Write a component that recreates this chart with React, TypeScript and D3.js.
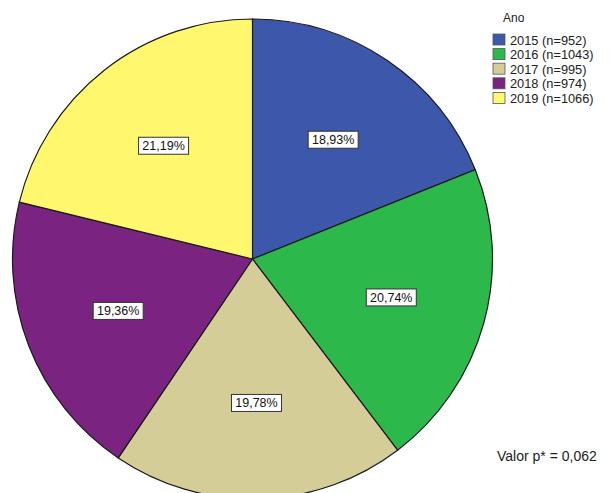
import * as d3 from "d3";

const years = ["2015", "2016", "2017", "2018", "2019"];
const counts = [952, 1043, 995, 974, 1066];
const percents = [18.93, 20.74, 19.78, 19.36, 21.19];
const colors = ["#3d58aa", "#2db84b", "#d5cd98", "#7b2381", "#fff86f"];

const W = 613;
const H = 493;

export default function App() {
  const cx = 252.5;
  const cy = 259;
  const r = 240;

  const pie = d3
    .pie<number>()
    .sort(null)
    .value((d) => d);
  const arcs = pie(percents);
  const arc = d3.arc<d3.PieArcDatum<number>>().innerRadius(0).outerRadius(r);
  const labelArc = d3
    .arc<d3.PieArcDatum<number>>()
    .innerRadius(r * 0.6)
    .outerRadius(r * 0.6);

  const fmt = (v: number) => v.toFixed(2).replace(".", ",") + "%";

  return (
    <svg
      width={W}
      height={H}
      style={{ position: "absolute", left: 0, top: 0, background: "#fff" }}
      fontFamily="'Liberation Sans', Arial, sans-serif"
    >
      <g transform={`translate(${cx},${cy})`}>
        {arcs.map((a, i) => (
          <path key={years[i]} d={arc(a) ?? ""} fill={colors[i]} stroke="#1a1a1a" strokeWidth={1.2} />
        ))}
        {arcs.map((a, i) => {
          const [lx, ly] = labelArc.centroid(a);
          return (
            <g key={"l" + years[i]} transform={`translate(${lx},${ly})`}>
              <rect x={-25} y={-8.5} width={50} height={17} fill="#fff" stroke="#333" strokeWidth={1} />
              <text textAnchor="middle" dy="0.36em" fontSize={12.5} fill="#111">
                {fmt(percents[i])}
              </text>
            </g>
          );
        })}
      </g>
      <g transform="translate(493,0)">
        <text x={10} y={22} fontSize={12} fill="#222">
          Ano
        </text>
        {years.map((y, i) => (
          <g key={"lg" + y} transform={`translate(0,${34 + i * 14.6})`}>
            <rect x={0} y={0} width={12} height={11} fill={colors[i]} stroke="#555" strokeWidth={0.8} />
            <text x={17} y={10.5} fontSize={12.8} fill="#222">
              {`${y} (n=${counts[i]})`}
            </text>
          </g>
        ))}
      </g>
      <text x={497} y={461} fontSize={14} fill="#222">
        Valor p* = 0,062
      </text>
    </svg>
  );
}
